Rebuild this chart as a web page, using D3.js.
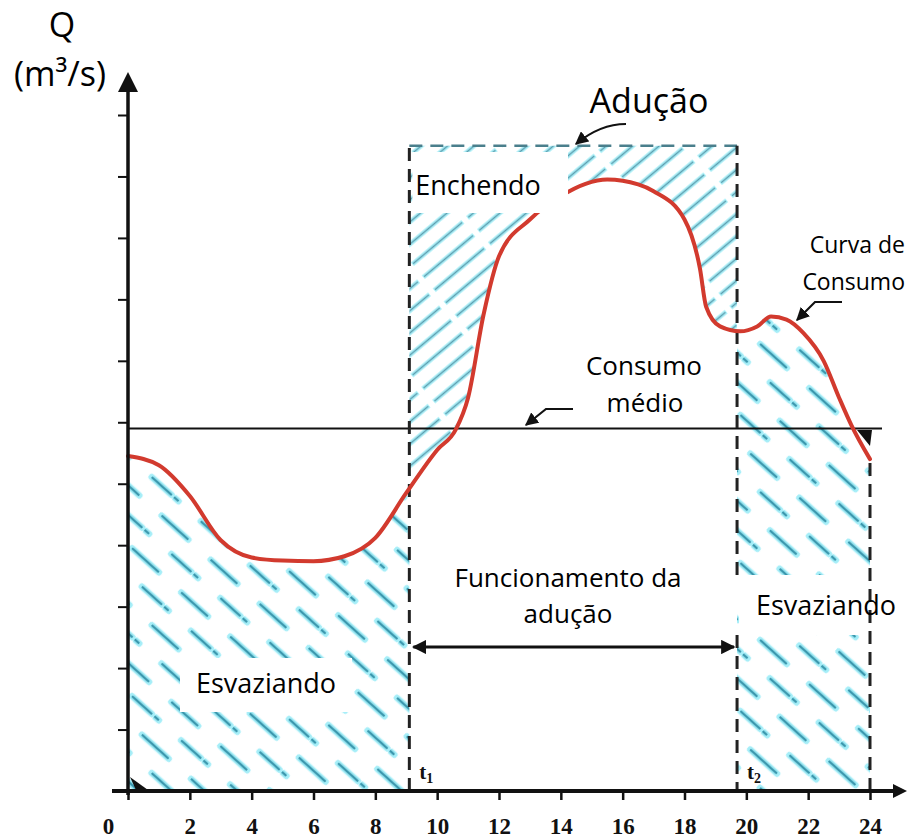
<!DOCTYPE html>
<html><head><meta charset="utf-8">
<script src="https://cdn.jsdelivr.net/npm/d3@7"></script>
<style>
html,body{margin:0;padding:0;background:#fff;}
svg{display:block;}
text{font-family:"Open Sans","Noto Sans",sans-serif;}
</style></head>
<body>
<svg id="chart" width="908" height="840"></svg>
<script>
// ---- data ----
const hours = [0,1,2,3,4,5,6,7,8,9,10,10.6,11,11.5,12,13,14,14.8,15.5,16.5,17,18,18.5,18.7,19.15,19.8,20.35,20.8,21.3,21.85,22.5,23,23.4,24];
const flow  = [5.45,5.3,4.8,4.08,3.8,3.75,3.74,3.82,4.12,4.85,5.55,5.88,6.4,7.75,8.7,9.3,9.68,9.88,9.95,9.87,9.76,9.3,8.5,7.88,7.56,7.48,7.56,7.72,7.67,7.45,7.0,6.4,5.95,5.4];
const xTicks = [0,2,4,6,8,10,12,14,16,18,20,22,24];
const yTicks = [1,2,3,4,5,6,7,8,9,10,11];
const meanFlow = 5.9;
const aducaoFlow = 10.5;
const t1 = 9.1, t2 = 19.7;
const labels = {
  q: "Q", unit: "(m³/s)", aducao: "Adução", enchendo: "Enchendo",
  consumo1: "Consumo", consumo2: "médio", curva1: "Curva de", curva2: "Consumo",
  func1: "Funcionamento da", func2: "adução", esvaziando: "Esvaziando"
};

const svg = d3.select("#chart");
const x = d3.scaleLinear().domain([0,24]).range([128,870]);
const y = d3.scaleLinear().domain([0,11]).range([791,115]);
const pts = hours.map((h,i)=>({h, q:flow[i]}));

const defs = svg.append("defs");
// hatch "\" pattern
const pd = defs.append("pattern").attr("id","hDown").attr("patternUnits","userSpaceOnUse")
  .attr("width",66).attr("height",44).attr("patternTransform","rotate(42)");
[[0,11,42,11],[33,33,66,33],[-33,33,9,33]].forEach(s=>{
  pd.append("line").attr("x1",s[0]+3).attr("y1",s[1]).attr("x2",s[2]-3).attr("y2",s[3])
    .attr("stroke","#a6eef8").attr("stroke-width",6.5).attr("stroke-linecap","round");
  pd.append("line").attr("x1",s[0]+4).attr("y1",s[1]).attr("x2",s[2]-4).attr("y2",s[3])
    .attr("stroke","#3b98ae").attr("stroke-width",2.4).attr("stroke-linecap","round");
});
// hatch "/" pattern
const pu = defs.append("pattern").attr("id","hUp").attr("patternUnits","userSpaceOnUse")
  .attr("width",72).attr("height",17).attr("patternTransform","rotate(-40)");
pu.append("line").attr("x1",2).attr("y1",8.5).attr("x2",68).attr("y2",8.5)
  .attr("stroke","#aaf0f8").attr("stroke-width",4.5);
pu.append("line").attr("x1",3).attr("y1",8.5).attr("x2",67).attr("y2",8.5)
  .attr("stroke","#5d9fb0").attr("stroke-width",1.4);

function clipX(id, a, b){
  defs.append("clipPath").attr("id",id).append("rect")
    .attr("x",x(a)).attr("y",0).attr("width",x(b)-x(a)).attr("height",840);
}
clipX("cL",0,t1); clipX("cM",t1,t2); clipX("cR",t2,24);

const curve = d3.curveMonotoneX;
const under = d3.area().x(d=>x(d.h)).y0(y(0)).y1(d=>y(d.q)).curve(curve);
const over  = d3.area().x(d=>x(d.h)).y0(y(aducaoFlow)).y1(d=>y(d.q)).curve(curve);

svg.append("path").attr("d",under(pts)).attr("fill","url(#hDown)").attr("clip-path","url(#cL)");
svg.append("path").attr("d",under(pts)).attr("fill","url(#hDown)").attr("clip-path","url(#cR)");
svg.append("path").attr("d",over(pts)).attr("fill","url(#hUp)").attr("clip-path","url(#cM)");

function box(r){ svg.append("rect").attr("x",r[0]).attr("y",r[1]).attr("width",r[2]).attr("height",r[3]).attr("fill","#fff"); }
box([180,658,172,54]);
box([x(t2)+2,575,170,60]);

// mean line
svg.append("line").attr("x1",x(0)).attr("x2",882).attr("y1",y(meanFlow)).attr("y2",y(meanFlow))
  .attr("stroke","#111").attr("stroke-width",2);

// dashed adução boundaries
const dash = {stroke:"#222", "stroke-width":3, "stroke-dasharray":"13,8"};
function dl(x1,y1,x2,y2,w){
  const l = svg.append("line").attr("x1",x1).attr("y1",y1).attr("x2",x2).attr("y2",y2);
  Object.entries(dash).forEach(([k,v])=>l.attr(k,v));
  if(w) l.attr("stroke-width",w);
  return l;
}
dl(x(t1),y(aducaoFlow),x(t2),y(aducaoFlow),2.5).attr("stroke","#4a7f8c");
dl(x(t1),y(0),x(t1),y(aducaoFlow));
dl(x(t2),635,x(t2),y(0));
dl(x(t2),575,x(t2),y(aducaoFlow));
dl(x(24),y(0),x(24),y(flow[flow.length-1]));

// consumption curve
svg.append("path").attr("d",d3.line().x(d=>x(d.h)).y(d=>y(d.q)).curve(curve)(pts))
  .attr("fill","none").attr("stroke","#d23a2e").attr("stroke-width",4).attr("stroke-linecap","round");

// Enchendo box covers the curve as in the reference
box([x(t1)+3,152,568-x(t1)-3,61]);

// axes
const gx = svg.append("g").attr("transform",`translate(0,${y(0)})`)
  .call(d3.axisBottom(x).tickValues(xTicks).tickSize(9).tickFormat(d3.format("d")));
gx.select(".domain").remove();
gx.selectAll(".tick line").attr("stroke","#111").attr("stroke-width",2.5);
gx.selectAll(".tick text").attr("y",27).style("font-family","'Liberation Serif',serif")
  .style("font-weight","bold").style("font-size","23px").attr("fill","#111");
gx.selectAll(".tick text").filter(d=>d===0).attr("dx",-20);

const gy = svg.append("g").attr("transform",`translate(${x(0)},0)`)
  .call(d3.axisLeft(y).tickValues(yTicks).tickSize(10).tickFormat(""));
gy.select(".domain").remove();
gy.selectAll(".tick line").attr("stroke","#111").attr("stroke-width",2);

svg.append("line").attr("x1",112).attr("x2",897).attr("y1",y(0)).attr("y2",y(0))
  .attr("stroke","#111").attr("stroke-width",4);
svg.append("line").attr("x1",x(0)).attr("x2",x(0)).attr("y1",y(0)+4).attr("y2",88)
  .attr("stroke","#111").attr("stroke-width",3.5);
svg.append("path").attr("d",`M${x(0)},72 L${x(0)-10},92 L${x(0)+10},92 Z`).attr("fill","#111");
svg.append("path").attr("d",`M907,${y(0)} L893,${y(0)-7} L893,${y(0)+7} Z`).attr("fill","#111");
// small marks
svg.append("path").attr("d",`M${x(0)+2},${y(0)-14} L${x(0)+20},${y(0)-1} L${x(0)+8},${y(0)-1} Z`).attr("fill","#111");
svg.append("path").attr("d",`M857,430 L872,430 L870,446 Z`).attr("fill","#111");

// arrow markers
const mk = defs.append("marker").attr("id","arr").attr("viewBox","0 0 10 10").attr("refX",9).attr("refY",5)
  .attr("markerWidth",6).attr("markerHeight",6).attr("orient","auto-start-reverse").attr("markerUnits","strokeWidth");
mk.append("path").attr("d","M0,0 L10,5 L0,10 Z").attr("fill","#111");
const mk2 = defs.append("marker").attr("id","arr2").attr("viewBox","0 0 10 10").attr("refX",9).attr("refY",5)
  .attr("markerWidth",4.5).attr("markerHeight",4.5).attr("orient","auto-start-reverse").attr("markerUnits","strokeWidth");
mk2.append("path").attr("d","M0,0 L10,5 L0,10 Z").attr("fill","#111");

function leader(d){ svg.append("path").attr("d",d).attr("fill","none").attr("stroke","#111").attr("stroke-width",2.2).attr("marker-end","url(#arr)"); }
leader("M626,124 Q600,124 576,144");
leader("M573,409 L546,409 L526,425");
leader("M842,302 L815,302 L797,320");
svg.append("line").attr("x1",x(t1)+4).attr("x2",x(t2)-3).attr("y1",647).attr("y2",647)
  .attr("stroke","#111").attr("stroke-width",3.2)
  .attr("marker-start","url(#arr2)").attr("marker-end","url(#arr2)");

// texts
function t(txt,xx,yy,size,anchor){
  svg.append("text").attr("x",xx).attr("y",yy).attr("text-anchor",anchor||"middle")
    .style("font-size",size+"px").attr("fill","#000").text(txt);
}
t(labels.q,62,37,34);
t(labels.unit,60,86,34);
t(labels.aducao,649,113,34);
t(labels.enchendo,478,195,27);
t(labels.consumo1,644,375,26);
t(labels.consumo2,645,412,26);
t(labels.curva1,905,253,23,"end");
t(labels.curva2,905,290,23,"end");
t(labels.func1,568,587,26);
t(labels.func2,568,623,26);
t(labels.esvaziando,266,693,27);
t(labels.esvaziando,826,615,27);

// t1, t2
function tl(sub,xx){
  const tx = svg.append("text").attr("x",xx).attr("y",779).style("font-family","'Liberation Serif',serif")
    .style("font-size","21px").style("font-weight","bold").attr("fill","#111");
  tx.append("tspan").text("t");
  tx.append("tspan").attr("dy",4).style("font-size","14px").text(sub);
}
tl("1",x(t1)+10);
tl("2",x(t2)+10);
</script>
</body></html>
